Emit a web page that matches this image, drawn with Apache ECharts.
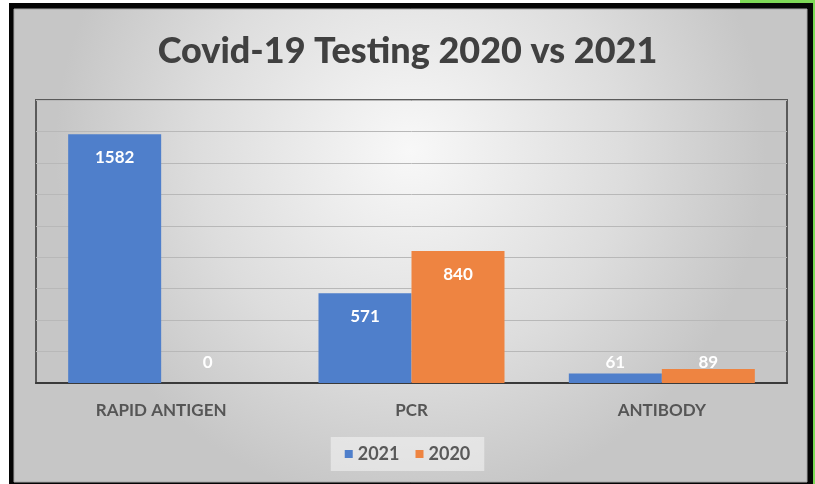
<!DOCTYPE html>
<html>
<head>
<meta charset="utf-8">
<title>Covid-19 Testing</title>
<script src="https://cdn.jsdelivr.net/npm/echarts@6/dist/echarts.min.js"></script>
<style>
  html, body { margin: 0; padding: 0; background: #fff; }
  #chart { width: 815px; height: 484px; }
</style>
</head>
<body>
<div id="chart"></div>
<script>
  var categories = ['RAPID ANTIGEN', 'PCR', 'ANTIBODY'];
  var data2021 = [1582, 571, 61];
  var data2020 = [0, 840, 89];
  var seriesNames = ['2021', '2020'];
  var colors = ['#4f7fcb', '#ee8441'];

  var font = 'Lato';

  // labels sit inside the top of tall bars, just above the axis for tiny ones
  function barData(values) {
    return values.map(function (v) {
      return {
        value: v,
        label: v < 200 ? { position: 'insideBottom', distance: 12 } : { position: 'insideTop', distance: 15 }
      };
    });
  }

  var chart = echarts.init(document.getElementById('chart'));
  var option = {
    animation: false,
    textStyle: { fontFamily: font },
    color: colors,
    graphic: [
      { type: 'rect', z: -10, shape: { x: 740, y: 0, width: 75, height: 4 }, style: { fill: '#7ed957' } },
      { type: 'rect', z: -10, shape: { x: 812, y: 0, width: 3, height: 484 }, style: { fill: '#7ed957' } },
      { type: 'rect', z: -9, shape: { x: 9, y: 3, width: 804, height: 481 }, style: { fill: '#050505' } },
      {
        type: 'rect', z: -8,
        shape: { x: 14, y: 9, width: 793, height: 473 },
        style: {
          fill: new echarts.graphic.RadialGradient(0.5, 0.3, 0.75, [
            { offset: 0, color: '#f8f8f8' },
            { offset: 0.6, color: '#dddddd' },
            { offset: 1, color: '#c6c6c6' }
          ]),
          stroke: '#a8a8a8',
          lineWidth: 1
        }
      }
    ],
    title: {
      text: 'Covid-19 Testing 2020 vs 2021',
      left: 'center',
      top: 28,
      textStyle: { fontFamily: font, fontSize: 36, fontWeight: 900, color: '#404040' }
    },
    legend: {
      data: seriesNames,
      bottom: 13,
      left: 'center',
      itemWidth: 8,
      itemHeight: 8,
      itemGap: 16,
      icon: 'rect',
      padding: [8, 14],
      backgroundColor: 'rgba(245,245,245,0.55)',
      textStyle: { fontFamily: font, fontSize: 18, fontWeight: 'bold', color: '#595959' }
    },
    grid: {
      left: 36,
      right: 28,
      top: 100,
      bottom: 101,
      show: true,
      borderColor: '#5a5a5a',
      borderWidth: 2,
      backgroundColor: 'transparent'
    },
    xAxis: {
      type: 'category',
      data: categories,
      axisTick: { show: false },
      axisLine: { lineStyle: { color: '#3a3a3a', width: 2 } },
      axisLabel: { margin: 19, fontFamily: font, fontSize: 17, fontWeight: 'bold', color: '#555555' }
    },
    yAxis: {
      type: 'value',
      min: 0,
      max: 1800,
      interval: 200,
      axisLabel: { show: false },
      axisLine: { show: false },
      axisTick: { show: false },
      splitLine: { lineStyle: { color: '#b8b8b8', width: 1 } }
    },
    series: [
      {
        name: seriesNames[0],
        type: 'bar',
        barWidth: 93,
        barGap: '0%',
        data: barData(data2021),
        label: { show: true, color: '#fff', fontFamily: font, fontSize: 17, fontWeight: 'bold' }
      },
      {
        name: seriesNames[1],
        type: 'bar',
        barWidth: 93,
        barGap: '0%',
        data: barData(data2020),
        label: { show: true, color: '#fff', fontFamily: font, fontSize: 17, fontWeight: 'bold' }
      }
    ]
  };
  chart.setOption(option);
</script>
</body>
</html>
